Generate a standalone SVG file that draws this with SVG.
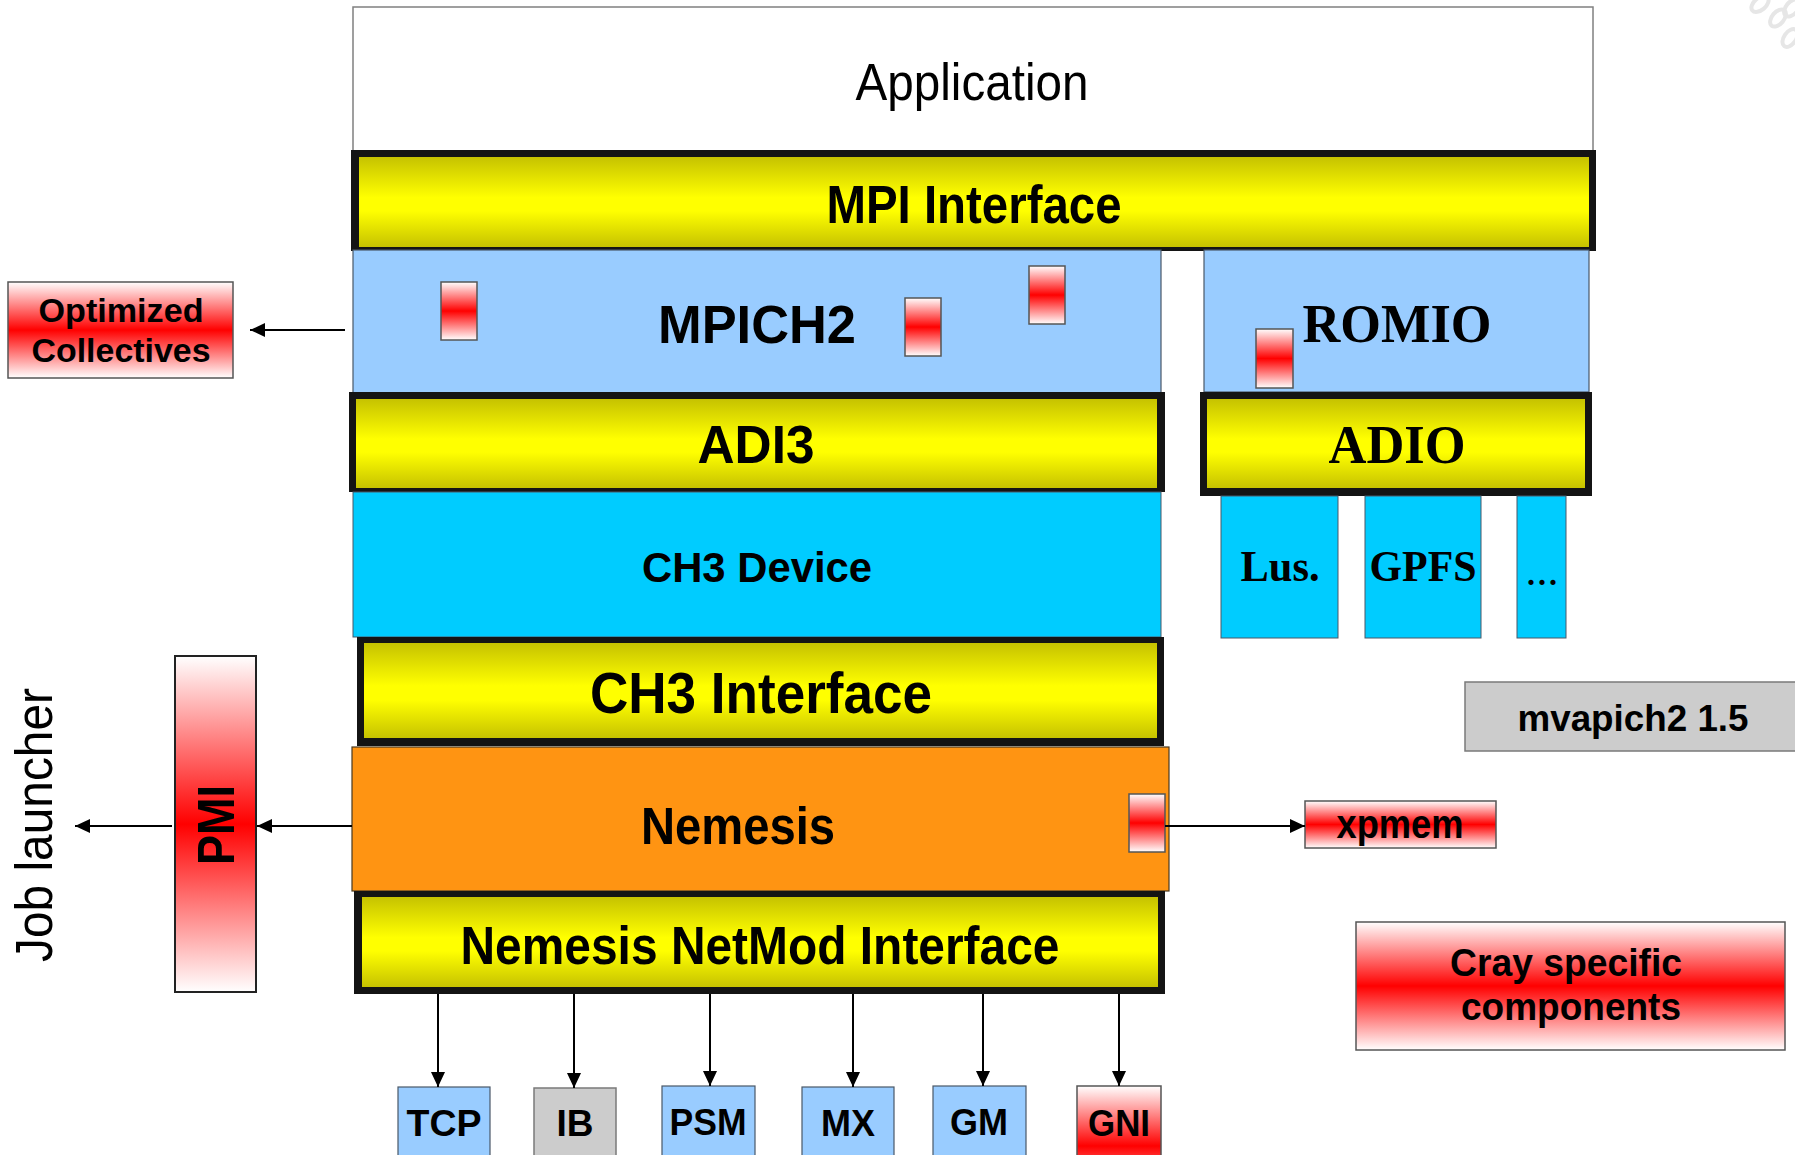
<svg xmlns="http://www.w3.org/2000/svg" width="1795" height="1155" viewBox="0 0 1795 1155">
<defs>
<linearGradient id="yel" x1="0" y1="0" x2="0" y2="1">
<stop offset="0" stop-color="#c6c200"/>
<stop offset="0.45" stop-color="#ffff00"/>
<stop offset="0.6" stop-color="#ffff00"/>
<stop offset="1" stop-color="#c6c200"/>
</linearGradient>
<linearGradient id="red" x1="0" y1="0" x2="0" y2="1">
<stop offset="0" stop-color="#ffffff"/>
<stop offset="0.5" stop-color="#ff0000"/>
<stop offset="1" stop-color="#ffffff"/>
</linearGradient>
<marker id="ah" markerUnits="userSpaceOnUse" markerWidth="16" markerHeight="14" refX="15" refY="7" orient="auto">
<path d="M0,0 L15,7 L0,14 Z" fill="#000"/>
</marker>
<style>
.sans{font-family:"Liberation Sans",Arial,sans-serif;}
.b{font-weight:bold;}
.serif{font-family:"Liberation Serif","Times New Roman",serif;font-weight:bold;}
.blk{fill:#141414;}
.ylw{fill:url(#yel);}
.redbox{fill:url(#red);stroke:#555;stroke-width:1.5;}
.lb{fill:#99ccff;stroke:#4a5868;stroke-width:1.2;}
.cy{fill:#00ccff;stroke:#4a5868;stroke-width:1;}
.gray{fill:#cccccc;stroke:#7a7a7a;stroke-width:1.5;}
.conn{stroke:#000;stroke-width:2;fill:none;marker-end:url(#ah);}
text{fill:#000;}
</style>
</defs>
<rect width="1795" height="1155" fill="#ffffff"/>
<g id="decor" fill="none" stroke="#e6e6e6" stroke-width="4">
<ellipse cx="1760" cy="4" rx="10" ry="6" transform="rotate(-40 1760 4)"/>
<ellipse cx="1778" cy="18" rx="10" ry="6" transform="rotate(-50 1778 18)"/>
<ellipse cx="1790" cy="38" rx="10" ry="6" transform="rotate(-55 1790 38)"/>
<ellipse cx="1792" cy="8" rx="10" ry="6" transform="rotate(-50 1792 8)"/>
</g>
<g id="application">
<rect x="353" y="7" width="1240" height="145" fill="#fff" stroke="#808080" stroke-width="1.5"/>
<text class="sans" x="972" y="100" font-size="52" text-anchor="middle" textLength="233" lengthAdjust="spacingAndGlyphs">Application</text>
</g>
<g id="mpi-interface">
<rect class="blk" x="351" y="150" width="1245" height="101"/>
<rect class="ylw" x="359" y="157" width="1230" height="90"/>
<text class="sans b" x="974" y="223" font-size="53" text-anchor="middle" textLength="295" lengthAdjust="spacingAndGlyphs">MPI Interface</text>
</g>
<g id="mpich2">
<rect class="lb" x="353" y="250" width="808" height="143"/>
<text class="sans b" x="757" y="343" font-size="54" text-anchor="middle" textLength="198" lengthAdjust="spacingAndGlyphs">MPICH2</text>
<rect class="redbox" x="441" y="282" width="36" height="58"/>
<rect class="redbox" x="905" y="298" width="36" height="58"/>
<rect class="redbox" x="1029" y="266" width="36" height="58"/>
</g>
<g id="romio">
<rect class="lb" x="1204" y="250" width="385" height="142"/>
<text class="serif" x="1397" y="342" font-size="55" text-anchor="middle" textLength="189" lengthAdjust="spacingAndGlyphs">ROMIO</text>
<rect class="redbox" x="1256" y="329" width="37" height="59"/>
</g>
<g id="adi3">
<rect class="blk" x="349" y="392" width="816" height="100"/>
<rect class="ylw" x="356" y="399" width="801" height="89"/>
<text class="sans b" x="756" y="463" font-size="53" text-anchor="middle" textLength="117" lengthAdjust="spacingAndGlyphs">ADI3</text>
</g>
<g id="adio">
<rect class="blk" x="1200" y="392" width="392" height="104"/>
<rect class="ylw" x="1207" y="399" width="378" height="89"/>
<text class="serif" x="1397" y="463" font-size="54" text-anchor="middle" textLength="137" lengthAdjust="spacingAndGlyphs">ADIO</text>
</g>
<g id="ch3-device">
<rect class="cy" x="353" y="492" width="808" height="145"/>
<text class="sans b" x="757" y="582" font-size="42" text-anchor="middle" textLength="230" lengthAdjust="spacingAndGlyphs">CH3 Device</text>
</g>
<g id="lustre">
<rect class="cy" x="1221" y="496" width="117" height="142"/>
<text class="serif" x="1280" y="581" font-size="44" text-anchor="middle" textLength="79" lengthAdjust="spacingAndGlyphs">Lus.</text>
</g>
<g id="gpfs">
<rect class="cy" x="1365" y="496" width="116" height="142"/>
<text class="serif" x="1423" y="581" font-size="44" text-anchor="middle" textLength="107" lengthAdjust="spacingAndGlyphs">GPFS</text>
</g>
<g id="other-fs">
<rect class="cy" x="1517" y="496" width="49" height="142"/>
<text x="1542" y="585" font-size="44" text-anchor="middle" font-family="Liberation Serif, Times New Roman, serif">...</text>
</g>
<g id="ch3-interface">
<rect class="blk" x="357" y="637" width="807" height="109"/>
<rect class="ylw" x="364" y="643" width="793" height="95"/>
<text class="sans b" x="761" y="713" font-size="57" text-anchor="middle" textLength="342" lengthAdjust="spacingAndGlyphs">CH3 Interface</text>
</g>
<g id="nemesis">
<rect x="352" y="747" width="817" height="144" fill="#ff9412" stroke="#4a3a20" stroke-width="1.2"/>
<text class="sans b" x="738" y="844" font-size="51" text-anchor="middle" textLength="194" lengthAdjust="spacingAndGlyphs">Nemesis</text>
<rect class="redbox" x="1129" y="794" width="36" height="58"/>
</g>
<g id="netmod-interface">
<rect class="blk" x="354" y="891" width="811" height="103"/>
<rect class="ylw" x="362" y="897" width="796" height="90"/>
<text class="sans b" x="760" y="964" font-size="54" text-anchor="middle" textLength="599" lengthAdjust="spacingAndGlyphs">Nemesis NetMod Interface</text>
</g>
<g id="optimized-collectives">
<rect class="redbox" x="8" y="282" width="225" height="96"/>
<text class="sans b" x="121" y="322" font-size="34" text-anchor="middle" textLength="165" lengthAdjust="spacingAndGlyphs">Optimized</text>
<text class="sans b" x="121" y="362" font-size="34" text-anchor="middle" textLength="179" lengthAdjust="spacingAndGlyphs">Collectives</text>
</g>
<g id="pmi">
<rect x="175" y="656" width="81" height="336" fill="url(#red)" stroke="#222" stroke-width="2"/>
<text class="sans b" transform="translate(234,825) rotate(-90)" x="0" y="0" font-size="52" text-anchor="middle" textLength="80" lengthAdjust="spacingAndGlyphs">PMI</text>
</g>
<g id="job-launcher">
<text class="sans" transform="translate(52,825) rotate(-90)" x="0" y="0" font-size="52" text-anchor="middle" textLength="274" lengthAdjust="spacingAndGlyphs">Job launcher</text>
</g>
<g id="mvapich2">
<rect class="gray" x="1465" y="682" width="340" height="69"/>
<text class="sans b" x="1633" y="731" font-size="37" text-anchor="middle" textLength="231" lengthAdjust="spacingAndGlyphs">mvapich2 1.5</text>
</g>
<g id="xpmem">
<rect class="redbox" x="1305" y="801" width="191" height="47"/>
<text class="sans b" x="1400" y="838" font-size="40" text-anchor="middle" textLength="127" lengthAdjust="spacingAndGlyphs">xpmem</text>
</g>
<g id="cray-specific">
<rect class="redbox" x="1356" y="922" width="429" height="128"/>
<text class="sans b" x="1566" y="976" font-size="38" text-anchor="middle" textLength="232" lengthAdjust="spacingAndGlyphs">Cray specific</text>
<text class="sans b" x="1571" y="1020" font-size="38" text-anchor="middle" textLength="220" lengthAdjust="spacingAndGlyphs">components</text>
</g>
<g id="tcp">
<rect class="lb" x="398" y="1087" width="92" height="80"/>
<text class="sans b" x="444" y="1136" font-size="37" text-anchor="middle" textLength="75" lengthAdjust="spacingAndGlyphs">TCP</text>
</g>
<g id="ib">
<rect class="gray" x="534" y="1088" width="82" height="80"/>
<text class="sans b" x="575" y="1136" font-size="37" text-anchor="middle">IB</text>
</g>
<g id="psm">
<rect class="lb" x="662" y="1086" width="93" height="80"/>
<text class="sans b" x="708" y="1135" font-size="37" text-anchor="middle" textLength="77" lengthAdjust="spacingAndGlyphs">PSM</text>
</g>
<g id="mx">
<rect class="lb" x="802" y="1087" width="92" height="80"/>
<text class="sans b" x="848" y="1136" font-size="37" text-anchor="middle" textLength="54" lengthAdjust="spacingAndGlyphs">MX</text>
</g>
<g id="gm">
<rect class="lb" x="933" y="1086" width="93" height="80"/>
<text class="sans b" x="979" y="1135" font-size="37" text-anchor="middle" textLength="58" lengthAdjust="spacingAndGlyphs">GM</text>
</g>
<g id="gni">
<rect x="1077" y="1086" width="84" height="120" fill="url(#red)" stroke="#555" stroke-width="1.5"/>
<text class="sans b" x="1119" y="1136" font-size="37" text-anchor="middle" textLength="62" lengthAdjust="spacingAndGlyphs">GNI</text>
</g>
<g id="connectors">
<line class="conn" x1="345" y1="330" x2="250" y2="330"/>
<line class="conn" x1="352" y1="826" x2="257" y2="826"/>
<line class="conn" x1="172" y1="826" x2="75" y2="826"/>
<line class="conn" x1="1165" y1="826" x2="1305" y2="826"/>
<line class="conn" x1="438" y1="994" x2="438" y2="1087"/>
<line class="conn" x1="574" y1="994" x2="574" y2="1088"/>
<line class="conn" x1="710" y1="994" x2="710" y2="1086"/>
<line class="conn" x1="853" y1="994" x2="853" y2="1087"/>
<line class="conn" x1="983" y1="994" x2="983" y2="1086"/>
<line class="conn" x1="1119" y1="994" x2="1119" y2="1086"/>
</g>
</svg>
